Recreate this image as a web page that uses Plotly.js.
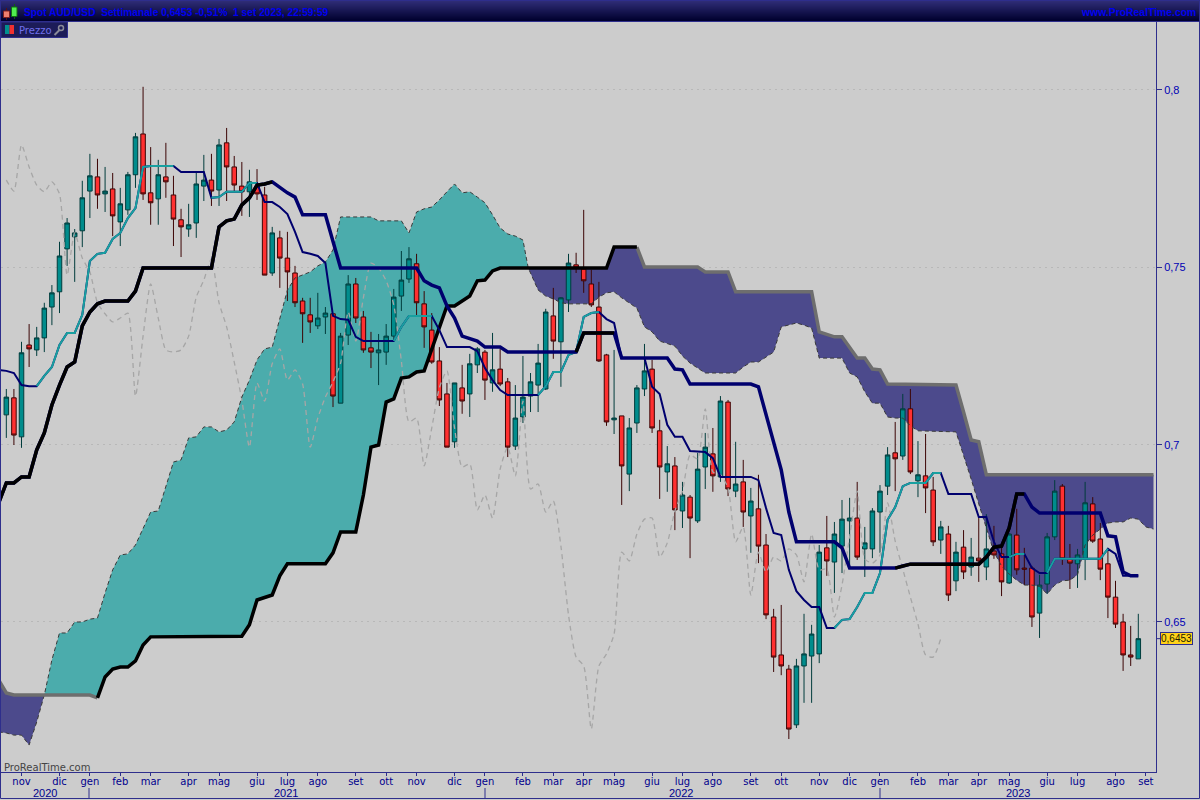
<!DOCTYPE html>
<html><head><meta charset="utf-8">
<script src="https://cdn.plot.ly/plotly-3.0.1.min.js"></script>
<style>html,body{margin:0;padding:0;background:#ccc;overflow:hidden}#c{width:1200px;height:800px}</style>
</head><body><div id="c"></div>
<script>
// ---- weekly candles (AUD/USD), index 0..149 ----
const open=[.7084,.7132,.7022,.7281,.7267,.7301,.7388,.7431,.7552,.7586,.7603,.7715,.7755,.7707,.7721,.7628,.7662,.7761,.7876,.7710,.7693,.7755,.7704,.7634,.7608,.7625,.7729,.7746,.7718,.7851,.7783,.7729,.7713,.7729,.7704,.7484,.7583,.7526,.7484,.7405,.7366,.7335,.7360,.7369,.7117,.7309,.7453,.7360,.7273,.7259,.7261,.7306,.7419,.7467,.7510,.7397,.7323,.7236,.7143,.7008,.7160,.7143,.7225,.7261,.7174,.7213,.7177,.6996,.7078,.7137,.7168,.7157,.7363,.7290,.7408,.7507,.7495,.7453,.7388,.7253,.7070,.7081,.6917,.7061,.7157,.7213,.7039,.6923,.6940,.6813,.6852,.6785,.6937,.6974,.6909,.7120,.6869,.6895,.6799,.6819,.6717,.6514,.6407,.6367,.6210,.6376,.6404,.6410,.6709,.6669,.6714,.6785,.6793,.6706,.6706,.6810,.6883,.6977,.6968,.7101,.6898,.6912,.6872,.6731,.6748,.6616,.6711,.6655,.6680,.6655,.6700,.6692,.6610,.6745,.6652,.6652,.6525,.6607,.6740,.6883,.6678,.6664,.6678,.6833,.6734,.6664,.6570,.6500,.6407,.6396];
const high=[.7157,.7157,.7290,.7340,.7332,.7400,.7450,.7572,.7639,.7608,.7744,.7820,.7806,.7783,.7766,.7724,.7769,.7879,.8009,.7839,.7803,.7851,.7758,.7665,.7679,.7766,.7817,.7820,.7862,.7893,.7814,.7797,.7775,.7777,.7727,.7614,.7603,.7600,.7504,.7414,.7414,.7428,.7388,.7369,.7315,.7478,.7470,.7377,.7318,.7312,.7340,.7439,.7546,.7557,.7538,.7433,.7371,.7275,.7174,.7174,.7225,.7256,.7275,.7267,.7315,.7270,.7188,.7168,.7250,.7202,.7284,.7383,.7442,.7416,.7538,.7541,.7662,.7493,.7459,.7256,.7267,.7081,.7075,.7168,.7284,.7239,.7070,.6996,.6965,.6895,.6858,.6977,.7033,.7047,.7137,.7126,.7008,.6957,.6878,.6915,.6748,.6537,.6548,.6379,.6396,.6523,.6492,.6717,.6799,.6782,.6844,.6850,.6895,.6768,.6821,.6886,.6993,.7064,.7143,.7157,.7010,.7030,.6909,.6785,.6771,.6726,.6759,.6737,.6793,.6804,.6771,.6711,.6751,.6819,.6709,.6658,.6633,.6751,.6900,.6889,.6720,.6706,.6895,.6852,.6779,.6709,.6616,.6523,.6489,.6523];
const low=[.7019,.6999,.6991,.7219,.7250,.7261,.7337,.7371,.7504,.7459,.7557,.7639,.7665,.7656,.7588,.7560,.7648,.7724,.7690,.7620,.7620,.7696,.7560,.7529,.7586,.7583,.7687,.7673,.7673,.7687,.7713,.7645,.7642,.7690,.7478,.7476,.7442,.7405,.7388,.7287,.7315,.7326,.7312,.7106,.7117,.7281,.7343,.7259,.7216,.7168,.7225,.7295,.7377,.7456,.7360,.7273,.7228,.7109,.6993,.6991,.7087,.7078,.7202,.7126,.7149,.7165,.6965,.6985,.7061,.7092,.7092,.7154,.7242,.7163,.7374,.7484,.7428,.7388,.7233,.7053,.7030,.6830,.6869,.7033,.7137,.7033,.6847,.6867,.6759,.6765,.6680,.6779,.6875,.6867,.6895,.6855,.6852,.6768,.6695,.6666,.6508,.6359,.6350,.6170,.6201,.6272,.6272,.6384,.6630,.6582,.6638,.6661,.6675,.6627,.6680,.6695,.6858,.6869,.6957,.6917,.6852,.6807,.6714,.6692,.6559,.6587,.6621,.6630,.6613,.6618,.6678,.6573,.6607,.6633,.6604,.6486,.6455,.6579,.6731,.6661,.6593,.6596,.6618,.6723,.6618,.6511,.6483,.6362,.6376,.6396];
const close=[.7134,.7027,.7259,.7270,.7301,.7385,.7428,.7532,.7625,.7597,.7696,.7758,.7704,.7715,.7645,.7679,.7761,.7868,.7707,.7682,.7761,.7741,.7636,.7614,.7620,.7735,.7746,.7715,.7845,.7783,.7732,.7713,.7741,.7707,.7478,.7597,.7526,.7487,.7400,.7369,.7346,.7357,.7371,.7137,.7306,.7453,.7357,.7267,.7261,.7267,.7306,.7416,.7464,.7524,.7400,.7332,.7233,.7126,.6993,.7174,.7123,.7228,.7270,.7182,.7211,.7171,.6993,.7075,.7134,.7177,.7230,.7374,.7292,.7414,.7512,.7498,.7462,.7394,.7236,.7064,.7075,.6940,.7047,.7160,.7208,.7047,.6937,.6946,.6816,.6858,.6793,.6931,.6993,.6912,.7123,.6875,.6889,.6810,.6841,.6714,.6520,.6401,.6376,.6198,.6376,.6410,.6466,.6697,.6672,.6748,.6790,.6793,.6683,.6723,.6813,.6869,.6971,.6960,.7101,.6923,.6915,.6878,.6726,.6768,.6576,.6697,.6641,.6683,.6672,.6706,.6689,.6613,.6748,.6647,.6649,.6514,.6604,.6740,.6869,.6678,.6666,.6689,.6836,.6728,.6649,.6570,.6494,.6407,.6401,.6453];

// ---- lagging span ----
const chikou=[.7746,.7715,.7845,.7783,.7732,.7713,.7741,.7707,.7478,.7597,.7526,.7487,.7400,.7369,.7346,.7357,.7371,.7137,.7306,.7453,.7357,.7267,.7261,.7267,.7306,.7416,.7464,.7524,.7400,.7332,.7233,.7126,.6993,.7174,.7123,.7228,.7270,.7182,.7211,.7171,.6993,.7075,.7134,.7177,.7230,.7374,.7292,.7414,.7512,.7498,.7462,.7394,.7236,.7064,.7075,.6940,.7047,.7160,.7208,.7047,.6937,.6946,.6816,.6858,.6793,.6931,.6993,.6912,.7123,.6875,.6889,.6810,.6841,.6714,.6520,.6401,.6376,.6198,.6376,.6410,.6466,.6697,.6672,.6748,.6790,.6793,.6683,.6723,.6813,.6869,.6971,.6960,.7101,.6923,.6915,.6878,.6726,.6768,.6576,.6697,.6641,.6683,.6672,.6706,.6689,.6613,.6748,.6647,.6649,.6514,.6604,.6740,.6869,.6678,.6666,.6689,.6836,.6728,.6649,.6570,.6494,.6407,.6401,.6453];

// ---- kijun (thick line) ----
const kijunIdx=[-1,0,1,2,3,4,5,6,7,8,9,10,11,12,13,16,17,18,27,28,29,30,31,32,33,34,35,36,37,38,39,42,43,44,54,55,56,57,58,59,60,61,62,63,65,66,75,76,80,81,87,88,89,90,98,99,100,101,102,103,104,109,110,111,117,118,119,127,128,129,130,131,132,133,134,135,136,144,145,146,147,148,149];
const kijunVal=[.6836,.6892,.6892,.6909,.6909,.6985,.7033,.7112,.7168,.7219,.7233,.7335,.7374,.7397,.7405,.7405,.7433,.7498,.7498,.7614,.7631,.7636,.7676,.7696,.7732,.7735,.7741,.7724,.7710,.7698,.7648,.7648,.7577,.7498,.7498,.7462,.7450,.7442,.7391,.7357,.7306,.7298,.7292,.7275,.7275,.7261,.7261,.7315,.7315,.7244,.7244,.7213,.7211,.7171,.7171,.7163,.7084,.7013,.6929,.6810,.6726,.6726,.6709,.6652,.6652,.6658,.6663,.6663,.6663,.6683,.6711,.6714,.6765,.6861,.6861,.6824,.6807,.6807,.6743,.6740,.6641,.6630,.6630];
const kijunBlackRanges=[[-1,35],[75,80],[117,134]];

// ---- tenkan (thin line) ----
const tenkanIdx=[-1,0,1,2,3,4,5,6,7,8,9,10,11,12,13,14,15,16,17,18,19,22,23,26,27,28,29,31,32,33,34,35,36,37,38,39,40,41,42,43,44,45,46,47,51,52,53,56,57,58,61,62,63,64,65,66,70,71,72,73,74,75,76,77,78,79,80,81,84,85,86,87,88,89,90,92,93,94,98,99,100,101,102,103,104,105,106,107,108,109,110,111,112,113,114,115,116,117,118,119,121,122,123,124,127,128,129,130,131,132,133,134,135,136,137,138,144,145,146,147,149];
const tenkanVal=[.7211,.7208,.7202,.7168,.7165,.7165,.7194,.7219,.7281,.7315,.7315,.7366,.7518,.7538,.7541,.7580,.7597,.7639,.7667,.7783,.7786,.7786,.7769,.7769,.7696,.7698,.7713,.7713,.7738,.7738,.7684,.7684,.7670,.7650,.7600,.7543,.7538,.7532,.7512,.7363,.7354,.7352,.7304,.7292,.7292,.7332,.7363,.7363,.7323,.7275,.7275,.7264,.7216,.7182,.7154,.7140,.7140,.7165,.7205,.7205,.7253,.7261,.7360,.7371,.7374,.7354,.7343,.7244,.7244,.7163,.7143,.7056,.7022,.7022,.6982,.6979,.6962,.6909,.6909,.6900,.6821,.6751,.6745,.6647,.6587,.6562,.6542,.6542,.6483,.6483,.6506,.6508,.6542,.6582,.6582,.6638,.6788,.6824,.6883,.6892,.6892,.6920,.6920,.6861,.6861,.6796,.6796,.6726,.6683,.6683,.6692,.6692,.6652,.6638,.6638,.6678,.6678,.6706,.6692,.6630,.6630];
const tenkanTealRanges=[[4,22],[27,33],[51,56],[70,78],[109,123],[132,134],[137,145]];

// ---- cloud edges ----
const spanAIdx=[-1,0,1,2,3,4,5,6,7,8,9,10,11,12,13,14,15,16,17,18,19,20,21,22,23,24,25,26,27,28,29,30,31,32,33,34,35,36,37,38,39,40,41,42,43,44,48,49,52,53,54,55,56,57,58,59,60,61,62,63,64,65,66,67,68,68.7,69,70,71,72,73,74,77,78,79,80,81,82,83,84,85,86,87,88,89,90,91,92,96,97,98,99,100,101,102,103,104,105,106,107,110,111,112,113,114,115,116,117,118,119,120,125,126,127,128,129,130,131,132,133,134,135,136,137,138,139,140,141,142,143,144,145,146,147,148,149,150,151];
const spanAVal=[.6190,.6187,.6181,.6181,.6153,.6218,.6294,.6393,.6469,.6469,.6500,.6500,.6508,.6511,.6582,.6647,.6689,.6692,.6717,.6765,.6810,.6813,.6881,.6951,.6957,.7019,.7022,.7050,.7050,.7036,.7041,.7064,.7134,.7182,.7239,.7270,.7275,.7357,.7436,.7470,.7478,.7487,.7504,.7515,.7549,.7642,.7642,.7631,.7631,.7597,.7656,.7665,.7670,.7690,.7713,.7735,.7710,.7713,.7698,.7682,.7648,.7611,.7594,.7588,.7577,.7498,.7484,.7436,.7419,.7411,.7400,.7397,.7397,.7416,.7428,.7431,.7414,.7400,.7385,.7332,.7318,.7292,.7284,.7278,.7250,.7230,.7216,.7202,.7202,.7219,.7233,.7233,.7247,.7261,.7332,.7337,.7343,.7337,.7329,.7244,.7244,.7202,.7191,.7149,.7117,.7117,.7078,.7075,.7075,.7053,.7039,.7036,.6971,.6903,.6833,.6765,.6697,.6658,.6635,.6618,.6604,.6604,.6601,.6579,.6604,.6616,.6618,.6633,.6717,.6745,.6762,.6779,.6782,.6782,.6793,.6790,.6768,.6762];
const spanBIdx=[-1,0,1,5,11,12,13,14,15,16,17,18,19,31,32,33,34,35,36,37,42,43,44,46,47,48,49,50,51,52,53,54,55,56,57,58,59,60,61,62,63,64,65,68.7,79,80,83,84,91,92,95,96,106,107,109,110,112,113,114,115,116,125,126,127,128,129,151];
const spanBVal=[.6336,.6300,.6294,.6294,.6294,.6286,.6345,.6367,.6373,.6373,.6390,.6435,.6458,.6460,.6492,.6562,.6570,.6576,.6630,.6664,.6664,.6695,.6754,.6754,.6858,.6993,.6999,.7120,.7129,.7188,.7191,.7205,.7208,.7270,.7329,.7391,.7391,.7405,.7419,.7462,.7464,.7490,.7498,.7498,.7498,.7557,.7557,.7501,.7501,.7487,.7487,.7431,.7431,.7318,.7304,.7304,.7244,.7244,.7213,.7211,.7171,.7168,.7092,.7013,.7008,.6915,.6915];
const spanBBlackRange=[12,83];
const cloudRegions=[[-1,5,'#4C4A8C'],[5,68.7,'#4BACAC'],[68.7,151,'#4C4A8C']];

// ---- axis labels ----
const priceTicks=[0.65,0.7,0.75,0.8];
const priceLabels=['0,65','0,7','0,75','0,8'];
const monthIdx=[2,7,11,15,19,24,28,33,37,41,46,50,54,59,63,68,72,76,80,85,89,93,98,102,107,111,115,120,124,128,132,137,141,146,150];
const monthLabels=['nov','dic','gen','feb','mar','apr','mag','giu','lug','ago','set','ott','nov','dic','gen','feb','mar','apr','mag','giu','lug','ago','set','ott','nov','dic','gen','feb','mar','apr','mag','giu','lug','ago','set'];
const yearLabels=['2020','2021','2022','2023'];
const yearPx=[45,286,681,1018];
const yearSepPx=[89,485,880];
const lastPrice=0.6453, lastPriceLabel='0,6453';
const titleText='Spot AUD/USD  Settimanale 0,6453 -0,51%  1 set 2023, 22:59:59';
const siteText='www.ProRealTime.com';
const panelText='Prezzo';
const brandText='ProRealTime.com';

// ---- helpers ----
const X=p=>(p-1)/1155, Y=p=>(772-p)/750;
const xRange=[-0.70,151.33], yRange=[0.6077,0.81917];
const NAVY='#00006E', TEAL='#18A0A0', AXIS='#2E2E8C', BLUE='#0000C8';
function slice(idx,val,a,b){const x=[],y=[];idx.forEach((k,n)=>{if(k>=a&&k<=b){x.push(k);y.push(val[n]);}});return {x,y};}
function line(d,color,width,dash,shape){return {type:'scatter',mode:'lines',x:d.x,y:d.y,xaxis:'x2',yaxis:'y2',hoverinfo:'skip',showlegend:false,
  line:{color,width,dash:dash||'solid',shape:shape||'linear',smoothing:0.6}};}

const idx=open.map((_,i)=>i);
const traces=[];
// cloud fills on the base subplot, under the candles
cloudRegions.forEach(([a,b,c])=>{
  const A=slice(spanAIdx,spanAVal,a,b),B=slice(spanBIdx,spanBVal,a,b);
  traces.push({type:'scatter',mode:'lines',x:A.x.concat(B.x.slice().reverse()),y:A.y.concat(B.y.slice().reverse()),
    fill:'toself',fillcolor:c,line:{width:0},hoverinfo:'skip',showlegend:false});
});
traces.push({type:'candlestick',x:idx,open,high,low,close,xaxis:'x2',yaxis:'y2',whiskerwidth:0,hoverinfo:'skip',showlegend:false,
  increasing:{line:{color:'#003C3C',width:1},fillcolor:'#008C8C'},
  decreasing:{line:{color:'#3C0505',width:1},fillcolor:'#FF3030'}});
traces.push(line({x:chikou.map((_,i)=>i),y:chikou},'#A6A6A6',1.3,'5px,4px','spline'));
traces.push(line({x:spanAIdx,y:spanAVal},'#3A3A3A',1,'4px,3px'));
traces.push(line(slice(spanBIdx,spanBVal,-1,spanBBlackRange[0]),'#6E6E6E',3.5));
traces.push(line(slice(spanBIdx,spanBVal,spanBBlackRange[1],151),'#6E6E6E',3.5));
traces.push(line(slice(spanBIdx,spanBVal,spanBBlackRange[0],spanBBlackRange[1]),'#000000',3.5));
traces.push(line({x:tenkanIdx,y:tenkanVal},NAVY,2));
tenkanTealRanges.forEach(([a,b])=>traces.push(line(slice(tenkanIdx,tenkanVal,a,b),TEAL,2)));
traces.push(line({x:kijunIdx,y:kijunVal},NAVY,3.5));
kijunBlackRanges.forEach(([a,b])=>traces.push(line(slice(kijunIdx,kijunVal,a,b),'#000000',3.5)));

// ---- chrome ----
const shapes=[];
function rect(x0,y0,x1,y1,fill,lc,lw){shapes.push({type:'rect',xref:'paper',yref:'paper',x0:X(x0),x1:X(x1),y0:Y(y0),y1:Y(y1),fillcolor:fill,line:{color:lc||fill,width:lw===undefined?0:lw},layer:'above'});}
function seg(x0,y0,x1,y1,c,w){shapes.push({type:'line',xref:'paper',yref:'paper',x0:X(x0),x1:X(x1),y0:Y(y0),y1:Y(y1),line:{color:c,width:w||1},layer:'above'});}
const stops=21;
for(let i=0;i<stops;i++){const t=i/(stops-1);
  const c=`rgb(${Math.round(48-48*t)},${Math.round(46-46*t)},${Math.round(120-74*t)})`;
  rect(0,i,1200,i+1,c);}
seg(0,21.5,1200,21.5,AXIS,1);
rect(0.5,0.5,1199.5,798.5,'rgba(0,0,0,0)',AXIS,1);
yearSepPx.forEach(p=>seg(p,788,p,798,AXIS,1));
// top-left candle icon
seg(6.5,8,6.5,20,'#5a1010',1); rect(3.5,11,9.5,17.5,'#F08070','#802020',1);
seg(14.5,4,14.5,19,'#106010',1); rect(11.5,7,17,16.5,'#50EE50','#107010',1);
// price panel
rect(1,22,67.5,37.5,'#1C1C58',AXIS,1);
rect(5,25,9.5,34,'#009090'); rect(9.5,25,14,34,'#F03030');
seg(54.5,35,60,29.5,'#8a8a98',2); 
shapes.push({type:'circle',xref:'paper',yref:'paper',x0:X(58.5),x1:X(63.5),y0:Y(30.5),y1:Y(25.5),fillcolor:'rgba(0,0,0,0)',line:{color:'#8a8a98',width:1.5},layer:'above'});
// last price tick
shapes.push({type:'line',xref:'paper',yref:'y',x0:1,x1:X(1161),y0:lastPrice,y1:lastPrice,line:{color:AXIS,width:1},layer:'above'});

const annotations=[];
function note(text,px,py,anchor,font){annotations.push({text,xref:'paper',yref:'paper',x:X(px),y:Y(py),xanchor:anchor,yanchor:'middle',showarrow:false,borderpad:0,font});}
note(titleText,23,12.5,'left',{family:'Liberation Sans',size:10.2,color:'#0000F0',weight:700});
note(siteText,1197,12.5,'right',{family:'Liberation Sans',size:10.4,color:'#0000F0',weight:700});
note(panelText,18,30,'left',{family:'DejaVu Sans',size:10,color:'#7070EC'});
note(brandText,3,767,'left',{family:'DejaVu Sans',size:10,color:'#444444'});
yearLabels.forEach((t,i)=>note(t,yearPx[i],793,'center',{family:'Liberation Sans',size:11,color:'#00008C'}));
annotations.push({text:lastPriceLabel,xref:'paper',yref:'y',x:X(1176.5),y:lastPrice,xanchor:'center',yanchor:'middle',showarrow:false,
  bgcolor:'#FFD21A',bordercolor:AXIS,borderwidth:1,borderpad:0,font:{family:'Liberation Sans',size:10,color:'#202000'}});

const layout={width:1200,height:800,margin:{l:1,r:44,t:22,b:28,pad:0},paper_bgcolor:'#CCCCCC',plot_bgcolor:'#CCCCCC',showlegend:false,boxgap:0.15,
  font:{family:'DejaVu Sans',color:'#00008C'},
  xaxis:{range:xRange,tickmode:'array',tickvals:monthIdx,ticktext:monthLabels,ticks:'outside',ticklen:3,tickwidth:1,tickcolor:AXIS,
    showgrid:false,zeroline:false,showline:true,linecolor:AXIS,linewidth:1,tickfont:{family:'DejaVu Sans',size:10,color:'#00008C'},tickangle:0,ticklabelstandoff:-3,rangeslider:{visible:false}},
  yaxis:{range:yRange,side:'right',tickmode:'array',tickvals:priceTicks,ticktext:priceLabels,ticks:'outside',ticklen:5,tickwidth:1,tickcolor:AXIS,
    showgrid:true,gridcolor:'#B8B8B8',gridwidth:1,griddash:'2px,4px',zeroline:false,showline:true,linecolor:AXIS,linewidth:1,tickfont:{family:'Liberation Sans',size:11,color:'#0000B4'}},
  xaxis2:{range:xRange,overlaying:'x',visible:false,rangeslider:{visible:false}},
  yaxis2:{range:yRange,overlaying:'y',side:'right',visible:false},
  shapes,annotations};
Plotly.newPlot('c',traces,layout,{displayModeBar:false,staticPlot:true});
</script></body></html>
